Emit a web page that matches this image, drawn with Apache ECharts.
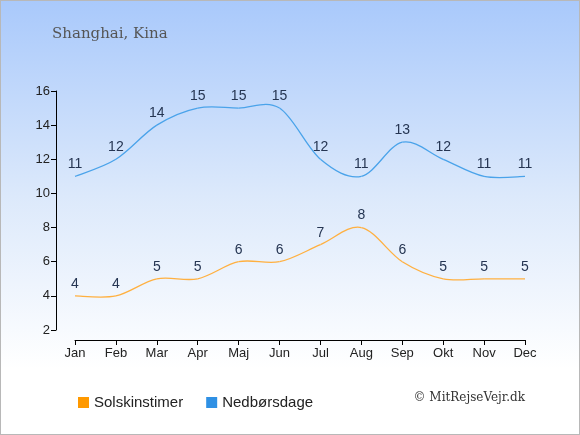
<!DOCTYPE html>
<html>
<head>
<meta charset="utf-8">
<script src="https://cdn.jsdelivr.net/npm/echarts@6/dist/echarts.min.js"></script>
<style>
  html, body { margin: 0; padding: 0; }
  #chart {
    width: 578px; height: 433px;
    border: 1px solid #b8b8b8;
    background: linear-gradient(to bottom, #a9c9fb 0%, #dce9fb 45%, #ffffff 85%);
  }
</style>
</head>
<body>
<div id="chart"></div>
<script>
const months = ['Jan', 'Feb', 'Mar', 'Apr', 'Maj', 'Jun', 'Jul', 'Aug', 'Sep', 'Okt', 'Nov', 'Dec']
const sunHours = [4, 4, 5, 5, 6, 6, 7, 8, 6, 5, 5, 5]
const rainDays = [11, 12, 14, 15, 15, 15, 12, 11, 13, 12, 11, 11]

const chart = echarts.init(document.getElementById('chart'))

// catmull-rom curve through the points, drawn segment by segment via the axes
function splineSeries(name, values, color, lineColor) {
  const n = values.length
  return {
    name,
    type: 'custom',
    color,
    itemStyle: { color },
    clip: false,
    data: values.map((v, i) => [i, v]),
    encode: { x: 0, y: 1 },
    renderItem(params, api) {
      const i = params.dataIndex
      const pt = k => {
        const j = Math.max(0, Math.min(n - 1, k))
        return api.coord([j, values[j]])
      }
      const p0 = pt(i - 1), p1 = pt(i), p2 = pt(i + 1), p3 = pt(i + 2)
      const children = []
      if (i < n - 1) {
        children.push({
          type: 'bezierCurve',
          shape: {
            x1: p1[0], y1: p1[1], x2: p2[0], y2: p2[1],
            cpx1: p1[0] + (p2[0] - p0[0]) / 6, cpy1: p1[1] + (p2[1] - p0[1]) / 6,
            cpx2: p2[0] - (p3[0] - p1[0]) / 6, cpy2: p2[1] - (p3[1] - p1[1]) / 6,
          },
          style: { stroke: lineColor, lineWidth: 1.3, fill: 'none' },
        })
      }
      children.push({
        type: 'text',
        x: p1[0], y: p1[1] - 5,
        style: {
          text: String(values[i]),
          align: 'center', verticalAlign: 'bottom',
          fill: '#253552', font: '14px "Liberation Sans"',
        },
      })
      return { type: 'group', children }
    },
  }
}

chart.setOption({
  animation: false,
  title: {
    text: 'Shanghai, Kina',
    left: 46, top: 21,
    textStyle: { fontFamily: 'DejaVu Serif', fontWeight: 'normal', fontSize: 15, color: '#555' },
  },
  legend: {
    left: 72, top: 389,
    itemWidth: 11, itemHeight: 11, itemGap: 23,
    icon: 'rect',
    textStyle: { fontFamily: 'Liberation Sans', fontSize: 15, color: '#222' },
    data: ['Solskinstimer', 'Nedbørsdage'],
  },
  graphic: [{
    type: 'text', right: 54, top: 391,
    style: { text: '© MitRejseVejr.dk', font: '12px "DejaVu Serif"', fill: '#333' },
  }],
  grid: { left: 74, right: 54, top: 90, bottom: 104 },
  xAxis: {
    type: 'category',
    data: months,
    boundaryGap: false,
    offset: 10,
    axisLine: { lineStyle: { color: '#000' } },
    axisTick: { alignWithLabel: true, length: 5, lineStyle: { color: '#000' } },
    axisLabel: { color: '#222', fontSize: 13, fontFamily: 'Liberation Sans', margin: 7 },
    splitLine: { show: false },
  },
  yAxis: {
    type: 'value',
    min: 2, max: 16, interval: 2,
    offset: 19,
    axisLine: { show: true, lineStyle: { color: '#000' } },
    axisTick: { show: true, length: 5, lineStyle: { color: '#000' } },
    axisLabel: { color: '#222', fontSize: 13, fontFamily: 'Liberation Sans', margin: 6 },
    splitLine: { show: false },
  },
  series: [
    splineSeries('Solskinstimer', sunHours, '#ff9900', '#ffb040'),
    splineSeries('Nedbørsdage', rainDays, '#2f90e4', '#4aa3ea'),
  ],
})
</script>
</body>
</html>
